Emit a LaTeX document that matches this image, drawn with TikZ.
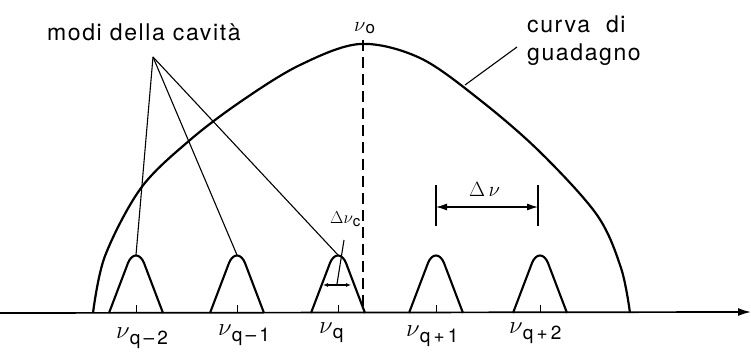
\documentclass[tikz,border=0pt]{standalone}
\usepackage{fontspec}
\setsansfont{TeX Gyre Heros}
\newfontfamily\spacedsans[LetterSpace=7]{TeX Gyre Heros}
\usetikzlibrary{arrows.meta}
\newcommand\nusub[2]{{\fontsize{#1}{#1}\selectfont$\nu$}#2}
\newcommand\lowsub[3]{\raisebox{-#2}{\fontsize{#1}{#1}\selectfont\sffamily #3}}
\begin{document}
\begin{tikzpicture}[x=1pt,y=-1pt,
  lbl/.style={font=\spacedsans\fontsize{23}{27}\selectfont, inner sep=0pt, anchor=base west},
  mlbl/.style={inner sep=0pt, anchor=base west},
  gain/.style={line width=2.2pt, line join=round},
  modeline/.style={line width=2.1pt, line join=round},
  lead/.style={line width=1.1pt},
  tickline/.style={line width=1pt}]
\useasboundingbox (0,0) rectangle (751,352);
% axis
\coordinate (ax0) at (0,313);
\coordinate (ax1) at (751,312);
\draw[line width=1.7pt, -{Latex[length=13pt,width=8pt]}] (ax0) -- (ax1);
% gain curve
\draw[gain] plot[smooth,tension=0.55] coordinates {(93,313) (105,256) (141,188) (190,140) (243,100) (300,65) (360,44) (420,58) (480,100) (540,152) (597,215) (621,268) (630,313)};
% dashed centre line
\coordinate (d0) at (363,40);
\coordinate (d1) at (363,313);
\draw[line width=1.6pt, dash pattern=on 11pt off 6pt] (d0) -- (d1);
\node[mlbl] (nu0) at (354,32) {\nusub{21}{\lowsub{17}{2pt}{o}}};
% modes
\foreach \c/\n in {136/m2,237/m1,338/m0,436/p1,540/p2}{
  \draw[modeline] (\c-27,313) -- (\c-8,263) .. controls (\c-4,253) and (\c+4,253) .. (\c+8,263) -- (\c+27,313);
  \coordinate (top\n) at (\c,255);
  \coordinate (tk\n) at (\c,305);
  \coordinate (tb\n) at (\c,313);
  \draw[tickline] (tk\n) -- (tb\n);
}
% labels under axis
\node[mlbl] (lm2) at (116,338) {\nusub{25}{\lowsub{19}{6pt}{q\,–\,2}}};
\node[mlbl] (lm1) at (218,335) {\nusub{25}{\lowsub{19}{6pt}{q\,–\,1}}};
\node[mlbl] (lm0) at (319,333) {\nusub{25}{\lowsub{19}{5pt}{q}}};
\node[mlbl] (lp1) at (406,336) {\nusub{25}{\lowsub{19}{6pt}{q\,+\,1}}};
\node[mlbl] (lp2) at (509,333) {\nusub{25}{\lowsub{19}{6pt}{q\,+\,2}}};
% modi della cavita
\node[lbl] (modi) at (47,41) {modi della cavità};
\coordinate (apex) at (153,57);
\draw[lead] (apex) -- (topm2);
\draw[lead] (apex) -- (topm1);
\draw[lead] (apex) -- (topm0);
% curva di guadagno
\node[lbl] (curva) at (527,33) {curva\ \ di};
\node[lbl] (guad) at (527,61) {guadagno};
\coordinate (cl0) at (517,47);
\coordinate (cl1) at (465,85);
\draw[lead] (cl0) -- (cl1);
% delta nu c
\node[mlbl] (dnc) at (330,224) {{\fontsize{17}{17}\selectfont$\Delta\nu$}\lowsub{15}{3pt}{c}};
\coordinate (wa) at (323,285);
\coordinate (wb) at (351,285);
\draw[lead, {Latex[length=5pt,width=4pt]}-{Latex[length=5pt,width=4pt]}] (wa) -- (wb);
\coordinate (dl0) at (344,240);
\coordinate (dl1) at (337,284);
\draw[lead] (dl0) -- (dl1);
% delta nu
\coordinate (b1t) at (436,185);
\coordinate (b1b) at (436,226);
\coordinate (b2t) at (538,185);
\coordinate (b2b) at (538,226);
\draw[lead] (b1t) -- (b1b);
\draw[lead] (b2t) -- (b2b);
\coordinate (aa) at (436,207);
\coordinate (ab) at (538,207);
\draw[lead, {Latex[length=11pt,width=7pt]}-{Latex[length=11pt,width=7pt]}] (aa) -- (ab);
\node[mlbl] (dn) at (469,197) {\fontsize{22}{22}\selectfont$\Delta\,\nu$};
\end{tikzpicture}
\end{document}
